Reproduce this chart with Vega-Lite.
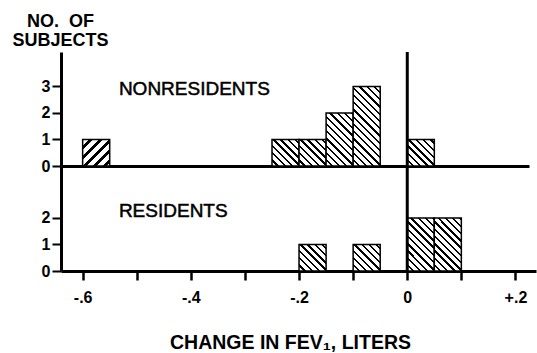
{
  "$schema": "https://vega.github.io/schema/vega-lite/v6.json",
  "autosize": {"type": "pad"},
  "padding": {"left": 11, "top": 12, "right": 2, "bottom": 0},
  "background": "white",
  "config": {
    "view": {"stroke": null},
    "font": "Liberation Sans",
    "axis": {"domainColor": "black", "tickColor": "black", "labelColor": "black", "titleColor": "black", "grid": false, "labelFont": "Liberation Sans", "titleFont": "Liberation Sans", "labelOverlap": false}
  },
  "datasets": {
    "bins": [
      {"group": "Nonresidents", "start": -0.6, "end": -0.55, "count": 1},
      {"group": "Nonresidents", "start": -0.25, "end": -0.2, "count": 1},
      {"group": "Nonresidents", "start": -0.2, "end": -0.15, "count": 1},
      {"group": "Nonresidents", "start": -0.15, "end": -0.1, "count": 2},
      {"group": "Nonresidents", "start": -0.1, "end": -0.05, "count": 3},
      {"group": "Nonresidents", "start": 0, "end": 0.05, "count": 1},
      {"group": "Residents", "start": -0.2, "end": -0.15, "count": 1},
      {"group": "Residents", "start": -0.1, "end": -0.05, "count": 1},
      {"group": "Residents", "start": 0, "end": 0.05, "count": 2},
      {"group": "Residents", "start": 0.05, "end": 0.1, "count": 2}
    ],
    "one": [{}]
  },
  "spacing": 0,
  "bounds": "flush",
  "vconcat": [
    {
      "width": 468,
      "height": 114,
      "layer": [
        {
          "data": {"name": "bins"},
          "transform": [{"filter": "datum.group === 'Nonresidents'"}],
          "mark": {"type": "bar", "stroke": "black", "strokeWidth": 1.5},
          "encoding": {
            "x": {"field": "start", "type": "quantitative", "scale": {"domain": [-0.64, 0.225], "nice": false, "zero": false},
              "axis": {"title": null, "labels": false, "ticks": false, "domainWidth": 3}},
            "x2": {"field": "end"},
            "y": {"field": "count", "type": "quantitative", "scale": {"domain": [0, 4.3], "nice": false},
              "axis": {"values": [0, 1, 2, 3], "format": "d", "title": ["NO.\u00a0\u00a0OF", "SUBJECTS"], "titleAngle": 0, "titleAlign": "center", "titleBaseline": "top", "titleX": -1, "titleY": -40, "titleFontSize": 18, "titleFontWeight": "bold", "titleLineHeight": 19, "labelFontSize": 16, "labelFontWeight": "bold", "tickSize": 9, "tickWidth": 2, "domainWidth": 3, "labelPadding": 2}},
            "y2": {"datum": 0},
            "fill": {
              "condition": [
                {"test": "datum.start < -0.5", "value": {"gradient": "linear", "x1": 0, "y1": 0, "x2": 3.018, "y2": 2.957, "stops": [{"offset":0,"color":"#fff"},{"offset":0.0425,"color":"#fff"},{"offset":0.0425,"color":"#000"},{"offset":0.0625,"color":"#000"},{"offset":0.0625,"color":"#fff"},{"offset":0.105,"color":"#fff"},{"offset":0.105,"color":"#000"},{"offset":0.125,"color":"#000"},{"offset":0.125,"color":"#fff"},{"offset":0.1675,"color":"#fff"},{"offset":0.1675,"color":"#000"},{"offset":0.1875,"color":"#000"},{"offset":0.1875,"color":"#fff"},{"offset":0.23,"color":"#fff"},{"offset":0.23,"color":"#000"},{"offset":0.25,"color":"#000"},{"offset":0.25,"color":"#fff"},{"offset":0.2925,"color":"#fff"},{"offset":0.2925,"color":"#000"},{"offset":0.3125,"color":"#000"},{"offset":0.3125,"color":"#fff"},{"offset":0.355,"color":"#fff"},{"offset":0.355,"color":"#000"},{"offset":0.375,"color":"#000"},{"offset":0.375,"color":"#fff"},{"offset":0.4175,"color":"#fff"},{"offset":0.4175,"color":"#000"},{"offset":0.4375,"color":"#000"},{"offset":0.4375,"color":"#fff"},{"offset":0.48,"color":"#fff"},{"offset":0.48,"color":"#000"},{"offset":0.5,"color":"#000"},{"offset":0.5,"color":"#fff"},{"offset":1,"color":"#fff"}]}},
                {"test": "datum.count === 3", "value": {"gradient": "linear", "x1": 0, "y1": 1, "x2": 0.445, "y2": -0.3077, "stops": [{"offset":0,"color":"#fff"},{"offset":0.0425,"color":"#fff"},{"offset":0.0425,"color":"#000"},{"offset":0.0625,"color":"#000"},{"offset":0.0625,"color":"#fff"},{"offset":0.105,"color":"#fff"},{"offset":0.105,"color":"#000"},{"offset":0.125,"color":"#000"},{"offset":0.125,"color":"#fff"},{"offset":0.1675,"color":"#fff"},{"offset":0.1675,"color":"#000"},{"offset":0.1875,"color":"#000"},{"offset":0.1875,"color":"#fff"},{"offset":0.23,"color":"#fff"},{"offset":0.23,"color":"#000"},{"offset":0.25,"color":"#000"},{"offset":0.25,"color":"#fff"},{"offset":0.2925,"color":"#fff"},{"offset":0.2925,"color":"#000"},{"offset":0.3125,"color":"#000"},{"offset":0.3125,"color":"#fff"},{"offset":0.355,"color":"#fff"},{"offset":0.355,"color":"#000"},{"offset":0.375,"color":"#000"},{"offset":0.375,"color":"#fff"},{"offset":0.4175,"color":"#fff"},{"offset":0.4175,"color":"#000"},{"offset":0.4375,"color":"#000"},{"offset":0.4375,"color":"#fff"},{"offset":0.48,"color":"#fff"},{"offset":0.48,"color":"#000"},{"offset":0.5,"color":"#000"},{"offset":0.5,"color":"#fff"},{"offset":0.5425,"color":"#fff"},{"offset":0.5425,"color":"#000"},{"offset":0.5625,"color":"#000"},{"offset":0.5625,"color":"#fff"},{"offset":0.605,"color":"#fff"},{"offset":0.605,"color":"#000"},{"offset":0.625,"color":"#000"},{"offset":0.625,"color":"#fff"},{"offset":0.6675,"color":"#fff"},{"offset":0.6675,"color":"#000"},{"offset":0.6875,"color":"#000"},{"offset":0.6875,"color":"#fff"},{"offset":0.73,"color":"#fff"},{"offset":0.73,"color":"#000"},{"offset":0.75,"color":"#000"},{"offset":0.75,"color":"#fff"},{"offset":0.7925,"color":"#fff"},{"offset":0.7925,"color":"#000"},{"offset":0.8125,"color":"#000"},{"offset":0.8125,"color":"#fff"},{"offset":0.855,"color":"#fff"},{"offset":0.855,"color":"#000"},{"offset":0.875,"color":"#000"},{"offset":0.875,"color":"#fff"},{"offset":0.9175,"color":"#fff"},{"offset":0.9175,"color":"#000"},{"offset":0.9375,"color":"#000"},{"offset":0.9375,"color":"#fff"},{"offset":0.98,"color":"#fff"},{"offset":0.98,"color":"#000"},{"offset":1,"color":"#000"}]}},
                {"test": "datum.count === 2", "value": {"gradient": "linear", "x1": 0, "y1": 1, "x2": 0.8862, "y2": -0.7364, "stops": [{"offset":0,"color":"#fff"},{"offset":0.0425,"color":"#fff"},{"offset":0.0425,"color":"#000"},{"offset":0.0625,"color":"#000"},{"offset":0.0625,"color":"#fff"},{"offset":0.105,"color":"#fff"},{"offset":0.105,"color":"#000"},{"offset":0.125,"color":"#000"},{"offset":0.125,"color":"#fff"},{"offset":0.1675,"color":"#fff"},{"offset":0.1675,"color":"#000"},{"offset":0.1875,"color":"#000"},{"offset":0.1875,"color":"#fff"},{"offset":0.23,"color":"#fff"},{"offset":0.23,"color":"#000"},{"offset":0.25,"color":"#000"},{"offset":0.25,"color":"#fff"},{"offset":0.2925,"color":"#fff"},{"offset":0.2925,"color":"#000"},{"offset":0.3125,"color":"#000"},{"offset":0.3125,"color":"#fff"},{"offset":0.355,"color":"#fff"},{"offset":0.355,"color":"#000"},{"offset":0.375,"color":"#000"},{"offset":0.375,"color":"#fff"},{"offset":0.4175,"color":"#fff"},{"offset":0.4175,"color":"#000"},{"offset":0.4375,"color":"#000"},{"offset":0.4375,"color":"#fff"},{"offset":0.48,"color":"#fff"},{"offset":0.48,"color":"#000"},{"offset":0.5,"color":"#000"},{"offset":0.5,"color":"#fff"},{"offset":0.5425,"color":"#fff"},{"offset":0.5425,"color":"#000"},{"offset":0.5625,"color":"#000"},{"offset":0.5625,"color":"#fff"},{"offset":0.605,"color":"#fff"},{"offset":0.605,"color":"#000"},{"offset":0.625,"color":"#000"},{"offset":0.625,"color":"#fff"},{"offset":0.6675,"color":"#fff"},{"offset":0.6675,"color":"#000"},{"offset":0.6875,"color":"#000"},{"offset":0.6875,"color":"#fff"},{"offset":0.73,"color":"#fff"},{"offset":0.73,"color":"#000"},{"offset":0.75,"color":"#000"},{"offset":0.75,"color":"#fff"},{"offset":1,"color":"#fff"}]}}
              ],
              "value": {"gradient": "linear", "x1": 0, "y1": 1, "x2": 2.1881, "y2": -1.1437, "stops": [{"offset":0,"color":"#fff"},{"offset":0.0425,"color":"#fff"},{"offset":0.0425,"color":"#000"},{"offset":0.0625,"color":"#000"},{"offset":0.0625,"color":"#fff"},{"offset":0.105,"color":"#fff"},{"offset":0.105,"color":"#000"},{"offset":0.125,"color":"#000"},{"offset":0.125,"color":"#fff"},{"offset":0.1675,"color":"#fff"},{"offset":0.1675,"color":"#000"},{"offset":0.1875,"color":"#000"},{"offset":0.1875,"color":"#fff"},{"offset":0.23,"color":"#fff"},{"offset":0.23,"color":"#000"},{"offset":0.25,"color":"#000"},{"offset":0.25,"color":"#fff"},{"offset":0.2925,"color":"#fff"},{"offset":0.2925,"color":"#000"},{"offset":0.3125,"color":"#000"},{"offset":0.3125,"color":"#fff"},{"offset":0.355,"color":"#fff"},{"offset":0.355,"color":"#000"},{"offset":0.375,"color":"#000"},{"offset":0.375,"color":"#fff"},{"offset":0.4175,"color":"#fff"},{"offset":0.4175,"color":"#000"},{"offset":0.4375,"color":"#000"},{"offset":0.4375,"color":"#fff"},{"offset":0.48,"color":"#fff"},{"offset":0.48,"color":"#000"},{"offset":0.5,"color":"#000"},{"offset":0.5,"color":"#fff"},{"offset":1,"color":"#fff"}]}
            }
          }
        },
        {
          "data": {"name": "one"},
          "mark": {"type": "rule", "strokeWidth": 3, "color": "black"},
          "encoding": {"x": {"datum": 0, "type": "quantitative"}}
        },
        {
          "data": {"name": "one"},
          "mark": {"type": "text", "text": "NONRESIDENTS", "align": "left", "baseline": "middle", "fontSize": 19, "font": "Liberation Sans", "color": "black", "stroke": "black", "strokeWidth": 0.5},
          "encoding": {"x": {"datum": -0.533, "type": "quantitative"}, "y": {"datum": 2.9, "type": "quantitative",
            "axis": {"values": [0, 1, 2, 3], "format": "d", "title": ["NO.\u00a0\u00a0OF", "SUBJECTS"], "titleAngle": 0, "titleAlign": "center", "titleBaseline": "top", "titleX": -1, "titleY": -40, "titleFontSize": 18, "titleFontWeight": "bold", "titleLineHeight": 19, "labelFontSize": 16, "labelFontWeight": "bold", "tickSize": 9, "tickWidth": 2, "domainWidth": 3, "labelPadding": 2}}}
        }
      ]
    },
    {
      "width": 475,
      "height": 105,
      "layer": [
        {
          "data": {"name": "bins"},
          "transform": [{"filter": "datum.group === 'Residents'"}],
          "mark": {"type": "bar", "stroke": "black", "strokeWidth": 1.5},
          "encoding": {
            "x": {"field": "start", "type": "quantitative", "scale": {"domain": [-0.64, 0.238], "nice": false, "zero": false},
              "axis": {"values": [-0.6, -0.5, -0.4, -0.3, -0.2, -0.1, 0, 0.1, 0.2], "labelExpr": "round(datum.value*10) % 2 != 0 ? '' : (datum.value == 0 ? '0' : (datum.value > 0 ? '+' : '-') + '.' + format(abs(round(datum.value*10)), 'd'))", "labelFontSize": 16, "labelFontWeight": "bold", "labelPadding": 9, "tickSize": 9, "tickWidth": 2.5, "domainWidth": 3, "title": "CHANGE IN FEV₁, LITERS", "titleFontSize": 19.5, "titleFontWeight": "bold", "titlePadding": 28, "titleX": 229, "titleAnchor": null, "titleAlign": "center"}},
            "x2": {"field": "end"},
            "y": {"field": "count", "type": "quantitative", "scale": {"domain": [0, 3.96], "nice": false},
              "axis": {"values": [0, 1, 2], "format": "d", "title": null, "labelFontSize": 16, "labelFontWeight": "bold", "tickSize": 9, "tickWidth": 2, "domainWidth": 3, "labelPadding": 2}},
            "y2": {"datum": 0},
            "fill": {
              "condition": [
                {"test": "datum.count === 2", "value": {"gradient": "linear", "x1": 0, "y1": 1, "x2": 0.8862, "y2": -0.7364, "stops": [{"offset":0,"color":"#fff"},{"offset":0.0425,"color":"#fff"},{"offset":0.0425,"color":"#000"},{"offset":0.0625,"color":"#000"},{"offset":0.0625,"color":"#fff"},{"offset":0.105,"color":"#fff"},{"offset":0.105,"color":"#000"},{"offset":0.125,"color":"#000"},{"offset":0.125,"color":"#fff"},{"offset":0.1675,"color":"#fff"},{"offset":0.1675,"color":"#000"},{"offset":0.1875,"color":"#000"},{"offset":0.1875,"color":"#fff"},{"offset":0.23,"color":"#fff"},{"offset":0.23,"color":"#000"},{"offset":0.25,"color":"#000"},{"offset":0.25,"color":"#fff"},{"offset":0.2925,"color":"#fff"},{"offset":0.2925,"color":"#000"},{"offset":0.3125,"color":"#000"},{"offset":0.3125,"color":"#fff"},{"offset":0.355,"color":"#fff"},{"offset":0.355,"color":"#000"},{"offset":0.375,"color":"#000"},{"offset":0.375,"color":"#fff"},{"offset":0.4175,"color":"#fff"},{"offset":0.4175,"color":"#000"},{"offset":0.4375,"color":"#000"},{"offset":0.4375,"color":"#fff"},{"offset":0.48,"color":"#fff"},{"offset":0.48,"color":"#000"},{"offset":0.5,"color":"#000"},{"offset":0.5,"color":"#fff"},{"offset":0.5425,"color":"#fff"},{"offset":0.5425,"color":"#000"},{"offset":0.5625,"color":"#000"},{"offset":0.5625,"color":"#fff"},{"offset":0.605,"color":"#fff"},{"offset":0.605,"color":"#000"},{"offset":0.625,"color":"#000"},{"offset":0.625,"color":"#fff"},{"offset":0.6675,"color":"#fff"},{"offset":0.6675,"color":"#000"},{"offset":0.6875,"color":"#000"},{"offset":0.6875,"color":"#fff"},{"offset":0.73,"color":"#fff"},{"offset":0.73,"color":"#000"},{"offset":0.75,"color":"#000"},{"offset":0.75,"color":"#fff"},{"offset":1,"color":"#fff"}]}}
              ],
              "value": {"gradient": "linear", "x1": 0, "y1": 1, "x2": 2.1881, "y2": -1.1437, "stops": [{"offset":0,"color":"#fff"},{"offset":0.0425,"color":"#fff"},{"offset":0.0425,"color":"#000"},{"offset":0.0625,"color":"#000"},{"offset":0.0625,"color":"#fff"},{"offset":0.105,"color":"#fff"},{"offset":0.105,"color":"#000"},{"offset":0.125,"color":"#000"},{"offset":0.125,"color":"#fff"},{"offset":0.1675,"color":"#fff"},{"offset":0.1675,"color":"#000"},{"offset":0.1875,"color":"#000"},{"offset":0.1875,"color":"#fff"},{"offset":0.23,"color":"#fff"},{"offset":0.23,"color":"#000"},{"offset":0.25,"color":"#000"},{"offset":0.25,"color":"#fff"},{"offset":0.2925,"color":"#fff"},{"offset":0.2925,"color":"#000"},{"offset":0.3125,"color":"#000"},{"offset":0.3125,"color":"#fff"},{"offset":0.355,"color":"#fff"},{"offset":0.355,"color":"#000"},{"offset":0.375,"color":"#000"},{"offset":0.375,"color":"#fff"},{"offset":0.4175,"color":"#fff"},{"offset":0.4175,"color":"#000"},{"offset":0.4375,"color":"#000"},{"offset":0.4375,"color":"#fff"},{"offset":0.48,"color":"#fff"},{"offset":0.48,"color":"#000"},{"offset":0.5,"color":"#000"},{"offset":0.5,"color":"#fff"},{"offset":1,"color":"#fff"}]}
            }
          }
        },
        {
          "data": {"name": "one"},
          "mark": {"type": "rule", "strokeWidth": 3, "color": "black"},
          "encoding": {"x": {"datum": 0, "type": "quantitative"}}
        },
        {
          "data": {"name": "one"},
          "mark": {"type": "text", "text": "RESIDENTS", "align": "left", "baseline": "middle", "fontSize": 19, "font": "Liberation Sans", "color": "black", "stroke": "black", "strokeWidth": 0.5},
          "encoding": {"x": {"datum": -0.533, "type": "quantitative"}, "y": {"datum": 2.26, "type": "quantitative"}}
        }
      ]
    }
  ]
}
